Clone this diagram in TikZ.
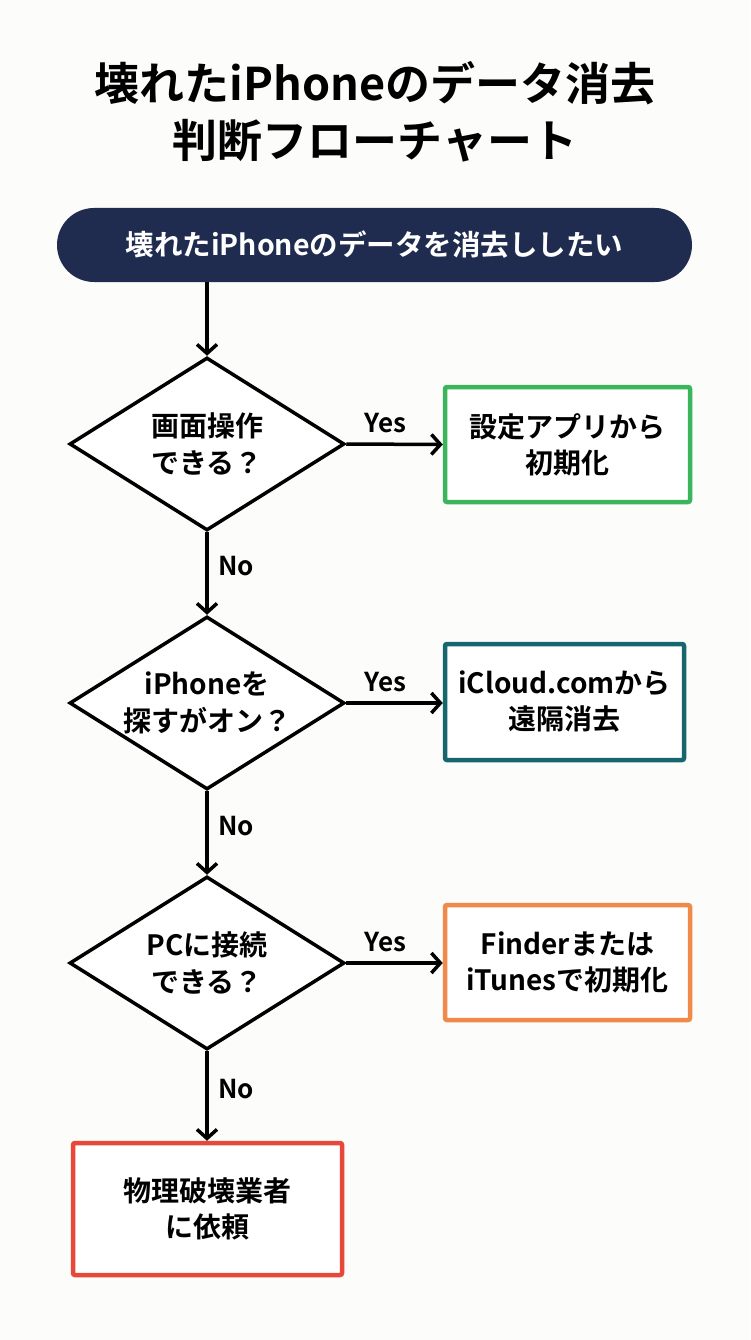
\documentclass[tikz,border=0pt]{standalone}
\usepackage{fontspec}
\setmainfont{Noto Sans CJK JP}[BoldFont={Noto Sans CJK JP Bold}]
\usetikzlibrary{shapes.geometric,arrows.meta}
\definecolor{navy}{HTML}{1F2C4F}
\definecolor{cgreen}{HTML}{3BB55C}
\definecolor{cteal}{HTML}{17666E}
\definecolor{corange}{HTML}{F08A4B}
\definecolor{cred}{HTML}{E8483A}
\definecolor{bg}{HTML}{FCFCFA}
\tikzset{
  decision/.style={shape=diamond, draw=black, line width=3.5pt, fill=white, inner sep=0pt,
    aspect=1.59, minimum width=275pt, minimum height=173pt},
  dtext/.style={align=center, font=\fontsize{28}{37}\selectfont\bfseries},
  resultbox/.style={shape=rectangle, line width=4.5pt, fill=white, rounded corners=2pt, align=center,
    font=\fontsize{28}{36}\selectfont\bfseries},
  flow/.style={line width=3.5pt, -{Straight Barb[length=9pt,width=20pt,line width=3.5pt]}},
  lbl/.style={font=\fontsize{26}{30}\selectfont\bfseries}
}
\begin{document}
\begin{tikzpicture}[x=1pt,y=-1pt]
\fill[bg] (0,0) rectangle (750,1340);
\useasboundingbox (0,0) rectangle (750,1340);
\node[font=\fontsize{45}{57}\selectfont\bfseries, align=center] (title) at (375,112)
  {壊れたiPhoneのデータ消去\\判断フローチャート};
\node[shape=rectangle, fill=navy, rounded corners=37pt, minimum width=635pt, minimum height=74pt,
  text=white, font=\fontsize{28.5}{34}\selectfont\bfseries] (start) at (374.5,245)
  {壊れたiPhoneのデータを消去ししたい};
\node[decision] (d1) at (207,444) {};
\node[dtext] (t1) at (d1.center) {画面操作\\できる？};
\node[decision] (d2) at (207,703) {};
\node[dtext] (t2) at (d2.center) {iPhoneを\\探すがオン？};
\node[decision] (d3) at (207,963) {};
\node[dtext] (t3) at (d3.center) {PCに接続\\できる？};
\node[resultbox, draw=cgreen, minimum width=245pt, minimum height=115pt] (r1) at (567.5,444.5) {設定アプリから\\初期化};
\node[resultbox, draw=cteal, minimum width=239pt, minimum height=116pt] (r2) at (564.5,702) {iCloud.comから\\遠隔消去};
\node[resultbox, draw=corange, minimum width=245pt, minimum height=115pt] (r3) at (567.5,962.5) {Finderまたは\\iTunesで初期化};
\node[resultbox, draw=cred, minimum width=269pt, minimum height=132pt] (r4) at (207.5,1209) {物理破壊業者\\に依頼};
\draw[flow] (start.south -| d1.north) -- (d1.north);
\draw[flow] (d1.east) -- (r1.west) node[lbl, midway, above=6pt, xshift=-9pt] (y1) {Yes};
\draw[flow] (d1.south) -- (d2.north) node[lbl, midway, right=6pt, yshift=7pt] (n1) {No};
\draw[flow] (d2.east) -- (r2.west |- d2.east) node[lbl, midway, above=6pt, xshift=-9pt] (y2) {Yes};
\draw[flow] (d2.south) -- (d3.north) node[lbl, midway, right=6pt, yshift=7pt] (n2) {No};
\draw[flow] (d3.east) -- (r3.west |- d3.east) node[lbl, midway, above=6pt, xshift=-9pt] (y3) {Yes};
\draw[flow] (d3.south) -- (r4.north -| d3.south) node[lbl, midway, right=6pt, yshift=7pt] (n3) {No};
\end{tikzpicture}
\end{document}
